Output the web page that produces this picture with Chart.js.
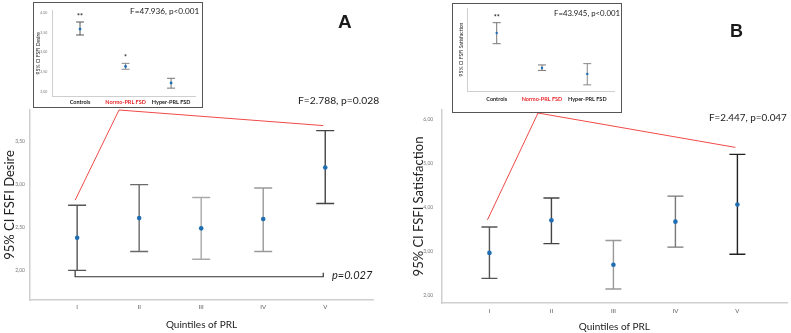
<!DOCTYPE html>
<html>
<head>
<meta charset="utf-8">
<script src="https://cdn.jsdelivr.net/npm/chart.js@4.4.1/dist/chart.umd.min.js"></script>
<style>
body{margin:0;width:791px;height:333px;position:relative;overflow:hidden;background:#fff;font-family:Lato,sans-serif}
.box{position:absolute}
.inset{position:absolute;border:1px solid #555;background:#fff;box-sizing:border-box}
.lbl{position:absolute;white-space:nowrap;color:#1a1a1a}
</style>
</head>
<body>
<div class="box" style="left:0;top:0;width:395px;height:333px"><canvas id="mainA"></canvas></div>
<div class="box" style="left:400px;top:0;width:391px;height:333px"><canvas id="mainB"></canvas></div>
<div class="inset" style="left:33px;top:2px;width:170px;height:106px"><canvas id="insA"></canvas></div>
<div class="inset" style="left:452px;top:3px;width:170px;height:110px"><canvas id="insB"></canvas></div>

<div class="lbl" style="left:338px;top:10px;font:bold 19px 'Liberation Sans',Arial;line-height:24px">A</div>
<div class="lbl" style="left:730px;top:20px;font:bold 18px 'Liberation Sans',Arial;line-height:23px">B</div>
<div class="lbl" style="left:298px;top:93px;font-size:10.3px;line-height:14px">F=2.788, p=0.028</div>
<div class="lbl" style="left:709px;top:110px;font-size:9.9px;line-height:14px">F=2.447, p=0.047</div>
<div class="lbl" style="left:130px;top:5px;font-size:8.2px;line-height:12px">F=47.936, p&lt;0.001</div>
<div class="lbl" style="left:554px;top:7px;font-size:7.8px;line-height:12px">F=43.945, p&lt;0.001</div>
<div class="lbl" style="left:332px;top:268px;font-size:11px;line-height:14px;font-style:italic">p=0.027</div>

<script>
const quintiles = ['I', 'II', 'III', 'IV', 'V'];
const groups = ['Controls', 'Normo-PRL FSD', 'Hyper-PRL FSD'];

// Panel A - FSFI Desire by PRL quintile (mean, 95% CI)
const desireMean = [2.38, 2.61, 2.49, 2.60, 3.20];
const desireLow  = [2.00, 2.22, 2.13, 2.22, 2.78];
const desireHigh = [2.76, 3.00, 2.85, 2.96, 3.63];

// Panel B - FSFI Satisfaction by PRL quintile
const satisMean = [2.96, 3.70, 2.69, 3.67, 4.06];
const satisLow  = [2.38, 3.17, 2.14, 3.09, 2.93];
const satisHigh = [3.55, 4.21, 3.24, 4.25, 5.20];

// insets - groups
const grpDesireMean = [3.59, 2.64, 2.22];
const grpDesireLow  = [3.44, 2.57, 2.09];
const grpDesireHigh = [3.77, 2.72, 2.34];
const grpDesireMarks = ['**', '*', ''];

const grpSatisMean = [5.20, 3.60, 3.33];
const grpSatisLow  = [4.71, 3.49, 2.83];
const grpSatisHigh = [5.67, 3.74, 3.80];
const grpSatisMarks = ['**', '', ''];

Chart.defaults.font.family = 'Lato, sans-serif';

const comma = v => v.toFixed(2).replace('.', ',');

// error bars, significance marks, bracket and callout lines
const whiskers = {
  id: 'whiskers',
  beforeDatasetsDraw(chart, args, o) {
    const {ctx, scales: {x, y}} = chart;
    ctx.save();
    ctx.lineWidth = o.width;
    o.low.forEach((lo, i) => {
      const px = x.getPixelForValue(i + 1);
      const yl = y.getPixelForValue(lo), yh = y.getPixelForValue(o.high[i]);
      ctx.strokeStyle = o.colors[i];
      ctx.beginPath();
      ctx.moveTo(px, yh); ctx.lineTo(px, yl);
      ctx.moveTo(px - o.cap, yh); ctx.lineTo(px + o.cap, yh);
      ctx.moveTo(px - o.cap, yl); ctx.lineTo(px + o.cap, yl);
      ctx.stroke();
      if (o.marks && o.marks[i]) {
        ctx.fillStyle = '#222';
        ctx.font = 'bold 7px Lato';
        ctx.textAlign = 'center';
        ctx.fillText(o.marks[i], px, yh - 3);
      }
    });
    if (o.bracket) {
      const b = o.bracket;
      const x1 = x.getPixelForValue(b.from) - 2, x2 = x.getPixelForValue(b.to) - 2;
      const yb = y.getPixelForValue(b.at);
      ctx.strokeStyle = '#333';
      ctx.lineWidth = 1.2;
      ctx.beginPath();
      ctx.moveTo(x1, yb - 6); ctx.lineTo(x1, yb); ctx.lineTo(x2, yb); ctx.lineTo(x2, yb - 4);
      ctx.stroke();
    }
    if (o.callout) {
      const c = o.callout;
      ctx.strokeStyle = '#f04a48';
      ctx.lineWidth = 1;
      c.to.forEach(i => {
        ctx.beginPath();
        ctx.moveTo(c.from[0], c.from[1]);
        ctx.lineTo(x.getPixelForValue(i + 1) - 2, y.getPixelForValue(o.high[i]) - c.gap);
        ctx.stroke();
      });
    }
    ctx.restore();
  }
};

function errChart(id, c) {
  return new Chart(document.getElementById(id), {
    type: 'scatter',
    data: {datasets: [{
      data: c.mean.map((m, i) => ({x: i + 1, y: m})),
      pointRadius: c.r, backgroundColor: '#1f6db3', borderWidth: 0
    }]},
    options: {
      responsive: true, maintainAspectRatio: false, animation: false,
      layout: {padding: c.pad},
      plugins: {
        legend: {display: false}, tooltip: {enabled: false},
        whiskers: {low: c.low, high: c.high, colors: c.colors, cap: c.cap, width: c.lw,
          marks: c.marks, bracket: c.bracket, callout: c.callout}
      },
      scales: {
        x: {
          type: 'linear', min: c.xmin, max: c.xmax,
          afterFit: s => { s.height = c.xh; },
          grid: {display: false, drawTicks: false},
          border: {color: c.axis, width: c.aw},
          ticks: {stepSize: 1, includeBounds: false, padding: c.xpad, font: c.xfont,
            color: c.xcolor, callback: v => c.cats[v - 1]},
          title: c.xtitle ? {display: true, text: c.xtitle, font: {size: 10}, color: '#222',
            padding: {top: 0, bottom: c.xtpad}} : {display: false}
        },
        y: {
          min: c.ymin, max: c.ymax,
          afterFit: s => { s.width = c.yw; },
          grid: {display: false, drawTicks: false},
          border: {color: c.axis, width: c.aw},
          ticks: {display: c.ystep > 0, stepSize: c.ystep, includeBounds: false, padding: c.ypad,
            font: {size: c.yfs}, color: '#777', callback: comma},
          title: {display: true, text: c.ytitle, font: {size: c.ytfs}, color: '#222',
            padding: {top: c.ytpad, bottom: 0}}
        }
      }
    },
    plugins: [whiskers]
  });
}

errChart('mainA', {
  cats: quintiles, mean: desireMean, low: desireLow, high: desireHigh,
  colors: ['#555', '#6a6a6a', '#aaa', '#999', '#444'], cap: 9, lw: 1.4, r: 2.3,
  pad: {top: 110, right: 22, bottom: 0, left: 0},
  xmin: 0.24, xmax: 5.77, xh: 33, xpad: 3, xfont: {size: 6}, xcolor: '#555',
  xtitle: 'Quintiles of PRL', xtpad: 2,
  ymin: 1.655, ymax: 3.87, yw: 30, ystep: 0.5, ypad: 5, yfs: 5,
  ytitle: '95% CI FSFI Desire', ytfs: 13, ytpad: 2,
  axis: '#cfcfcf', aw: 1.5,
  bracket: {from: 1, to: 5, at: 1.926},
  callout: {from: [119, 110], to: [0, 4], gap: 5}
});

errChart('mainB', {
  cats: quintiles, mean: satisMean, low: satisLow, high: satisHigh,
  colors: ['#555', '#444', '#999', '#777', '#222'], cap: 8, lw: 1.4, r: 2.3,
  pad: {top: 110, right: 0, bottom: 0, left: 0},
  xmin: 0.23, xmax: 5.8, xh: 30, xpad: 4.5, xfont: {size: 6}, xcolor: '#555',
  xtitle: 'Quintiles of PRL', xtpad: 0,
  ymin: 1.82, ymax: 6.21, yw: 41.7, ystep: 1, ypad: 8.5, yfs: 5,
  ytitle: '95% CI FSFI Satisfaction', ytfs: 13, ytpad: 11,
  axis: '#cfcfcf', aw: 1.5,
  callout: {from: [138, 113], to: [0, 4], gap: 7}
});

errChart('insA', {
  cats: groups, mean: grpDesireMean, low: grpDesireLow, high: grpDesireHigh,
  colors: ['#555', '#888', '#777'], cap: 4, lw: 1, r: 1.4, marks: grpDesireMarks,
  pad: {top: 7, right: 6.3, bottom: 0, left: 0},
  xmin: 0.4, xmax: 3.54, xh: 11, xpad: 3, xfont: {size: 5.5, weight: 'bold'},
  xcolor: ctx => ctx.index === 1 ? '#e8262a' : '#222',
  ymin: 1.89, ymax: 4.06, yw: 18.7, ystep: 0.5, ypad: 5.5, yfs: 3.5,
  ytitle: '95% CI FSFI Desire', ytfs: 5, ytpad: 1,
  axis: '#cfcfcf', aw: 1
});

errChart('insB', {
  cats: groups, mean: grpSatisMean, low: grpSatisLow, high: grpSatisHigh,
  colors: ['#777', '#777', '#888'], cap: 4, lw: 1, r: 1.2, marks: grpSatisMarks,
  pad: {top: 4, right: 7, bottom: 0, left: 0},
  xmin: 0.36, xmax: 3.59, xh: 21, xpad: 5, xfont: {size: 5.5, weight: 'bold'},
  xcolor: ctx => ctx.index === 1 ? '#e8262a' : '#222',
  ymin: 2.55, ymax: 6.34, yw: 14.7, ystep: 0, ypad: 2, yfs: 4,
  ytitle: '95% CI FSFI Satisfaction', ytfs: 5, ytpad: 5,
  axis: '#cfcfcf', aw: 1
});
</script>
</body>
</html>
